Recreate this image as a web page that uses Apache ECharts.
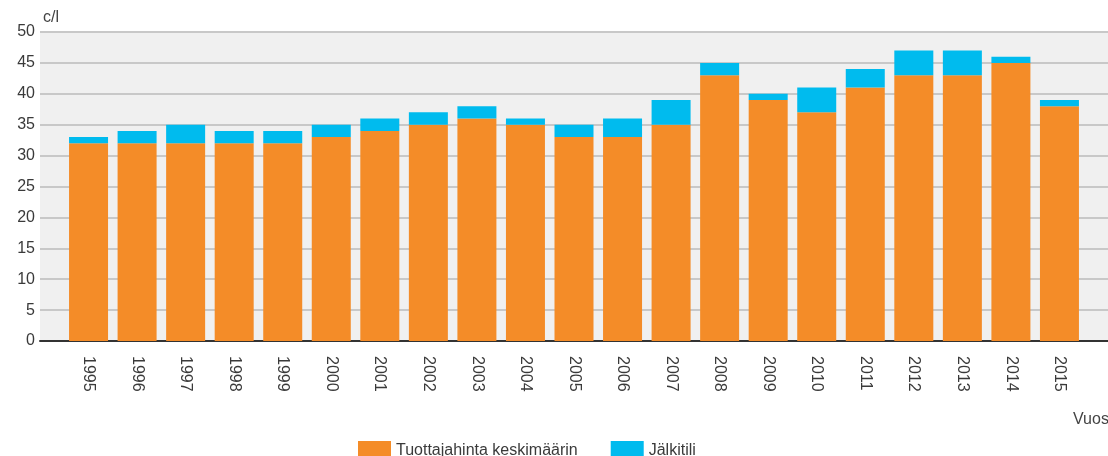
<!DOCTYPE html>
<html>
<head>
<meta charset="utf-8">
<script src="https://cdn.jsdelivr.net/npm/echarts@6/dist/echarts.min.js"></script>
<style>html,body{margin:0;padding:0;background:#fff}#c{width:1108px;height:456px}</style>
</head>
<body>
<div id="c"></div>
<script>
var categories = ['', '1995','1996','1997','1998','1999','2000','2001','2002','2003','2004','2005','2006','2007','2008','2009','2010','2011','2012','2013','2014','2015', ''];
var producerPrice = [null, 32,32,32,32,32,33,34,35,36,35,33,33,35,43,39,37,41,43,43,45,38, null];
var bonus = [null, 1,2,3,2,2,2,2,2,2,1,2,3,4,2,1,4,3,4,4,1,1, null];
var yTicks = [0,5,10,15,20,25,30,35,40,45,50];

var FF = 'Liberation Sans, Arial, sans-serif';
var chart = echarts.init(document.getElementById('c'));
chart.setOption({
  animation: false,
  textStyle: {fontFamily: FF},
  grid: {left: 40, top: 32, width: 1080, height: 309, show: true, backgroundColor: '#f0f0f0', borderWidth: 0},
  legend: {
    top: 436, left: 353, itemWidth: 33, itemHeight: 20, itemGap: 33,
    icon: 'rect',
    textStyle: {fontSize: 16, color: '#3a3a3a'},
    data: ['Tuottajahinta keskimäärin', 'Jälkitili']
  },
  graphic: [
    {type: 'text', left: 43, top: 10, style: {text: 'c/l', fontSize: 16, fill: '#444', fontFamily: FF}},
    {type: 'text', left: 1073, top: 412, style: {text: 'Vuosi', fontSize: 16, fill: '#444', fontFamily: FF}}
  ],
  xAxis: {
    type: 'category', data: categories, boundaryGap: false,
    axisLine: {lineStyle: {color: '#333', width: 2}},
    axisTick: {show: false},
    axisLabel: {rotate: -90, fontSize: 16, color: '#3a3a3a', margin: 15, interval: 0},
    splitLine: {show: false}
  },
  yAxis: {
    type: 'value', min: yTicks[0], max: yTicks[yTicks.length-1], interval: 5,
    axisLine: {show: false}, axisTick: {show: false},
    axisLabel: {fontSize: 16, color: '#3a3a3a', margin: 5},
    splitLine: {lineStyle: {color: '#c8c8c8', width: 2}}
  },
  series: [
    {name: 'Tuottajahinta keskimäärin', type: 'bar', stack: 'a', data: producerPrice, barWidth: 39, itemStyle: {color: '#f48c28'}},
    {name: 'Jälkitili', type: 'bar', stack: 'a', data: bonus, barWidth: 39, itemStyle: {color: '#00bbee'}}
  ]
});
</script>
</body>
</html>
